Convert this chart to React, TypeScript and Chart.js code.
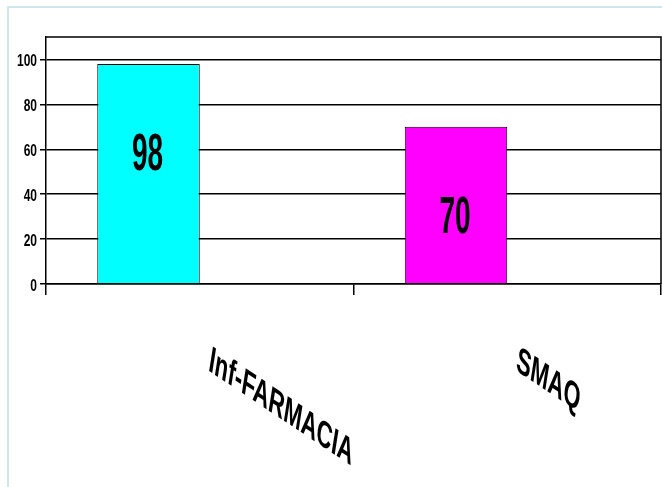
import React, { useEffect, useRef } from "react";
import { Chart, registerables } from "chart.js";

Chart.register(...registerables);

const categories = ["Inf-FARMACIA", "SMAQ"];
const seriesValues = [98, 70];
const emptySeries: (number | null)[] = [null, null];
const barColors = ["#00FFFF", "#FF00FF"];
const yTickValues = [0, 20, 40, 60, 80, 100];
const yMin = 0;
const yMax = 110;

const W = 662;
const H = 487;

const framePlugin = {
  id: "frame",
  beforeDatasetsDraw(chart: any) {
    const { ctx, chartArea } = chart;
    ctx.save();
    ctx.strokeStyle = "#000";
    ctx.lineWidth = 1.5;
    ctx.beginPath();
    ctx.moveTo(chartArea.left, chartArea.top);
    ctx.lineTo(chartArea.right, chartArea.top);
    ctx.lineTo(chartArea.right, chartArea.bottom);
    ctx.stroke();
    ctx.restore();
  },
};

const yLabelPlugin = {
  id: "yLabels",
  afterDraw(chart: any) {
    const { ctx } = chart;
    const ys = chart.scales.y;
    ctx.save();
    ctx.fillStyle = "#000";
    ctx.font = 'bold 16px "Liberation Sans", Arial, sans-serif';
    ctx.textAlign = "right";
    ctx.textBaseline = "alphabetic";
    ys.ticks.forEach((t: any) => {
      const y = ys.getPixelForValue(t.value);
      ctx.save();
      ctx.translate(ys.right - 9, y + 1 + 5.7);
      ctx.scale(0.75, 1);
      ctx.fillText(String(t.value), 0, 0);
      ctx.restore();
    });
    ctx.restore();
  },
};

const valueLabelPlugin = {
  id: "valueLabels",
  afterDatasetsDraw(chart: any) {
    const { ctx } = chart;
    const meta = chart.getDatasetMeta(0);
    ctx.save();
    ctx.fillStyle = "#000";
    ctx.font = 'bold 51px "Liberation Sans", Arial, sans-serif';
    ctx.textAlign = "center";
    ctx.textBaseline = "alphabetic";
    meta.data.forEach((el: any, i: number) => {
      const v = seriesValues[i];
      if (v == null) return;
      ctx.save();
      ctx.translate(el.x - 1, el.y + 88 + 18);
      ctx.scale(0.55, 1);
      ctx.fillText(String(v), 0, 0);
      ctx.restore();
    });
    ctx.restore();
  },
};

const xLabelPlugin = {
  id: "xLabels",
  afterDraw(chart: any) {
    const { ctx } = chart;
    const xs = chart.scales.x;
    ctx.save();
    ctx.fillStyle = "#000";
    ctx.font = 'bold 35px "Liberation Sans", Arial, sans-serif';
    ctx.textAlign = "left";
    ctx.textBaseline = "alphabetic";
    categories.forEach((label, i) => {
      const cx = xs.getPixelForValue(i);
      ctx.save();
      ctx.translate(cx + 8, 370);
      ctx.transform(0.6, 0.4, -0.16, 1.02, 0, 0);
      ctx.fillText(label, 0, 0);
      ctx.restore();
    });
    ctx.restore();
  },
};

export default function App() {
  const ref = useRef<HTMLCanvasElement | null>(null);

  useEffect(() => {
    if (!ref.current) return;
    const chart = new Chart(ref.current, {
      type: "bar",
      data: {
        labels: categories,
        datasets: [
          {
            label: "Serie 1",
            data: seriesValues,
            backgroundColor: barColors,
            borderColor: "#000",
            borderWidth: 1,
            barPercentage: 1,
            categoryPercentage: 2 / 3,
          },
          {
            label: "Serie 2",
            data: emptySeries,
            backgroundColor: "#999",
            borderColor: "#000",
            borderWidth: 1,
            barPercentage: 1,
            categoryPercentage: 2 / 3,
          },
        ],
      },
      options: {
        responsive: false,
        animation: false,
        devicePixelRatio: 1,
        layout: { padding: { top: 37, right: 1, left: 0, bottom: 0 } },
        plugins: {
          legend: { display: false },
          tooltip: { enabled: false },
          title: { display: false },
        },
        scales: {
          x: {
            type: "category",
            offset: true,
            grid: {
              display: true,
              offset: true,
              drawOnChartArea: false,
              drawTicks: true,
              tickLength: 11,
              color: "#000",
              lineWidth: 1.5,
            },
            border: { display: true, color: "#000", width: 1.5 },
            ticks: { display: false },
            afterFit: (s: any) => {
              s.height = 203;
            },
          },
          y: {
            min: yMin,
            max: yMax,
            grid: {
              color: "#000",
              lineWidth: 1.5,
              drawTicks: true,
              tickLength: 6,
            },
            border: { display: true, color: "#000", width: 1.5 },
            ticks: { display: false, stepSize: 20 },
            afterBuildTicks: (s: any) => {
              s.ticks = yTickValues.map((v) => ({ value: v }));
            },
            afterFit: (s: any) => {
              s.width = 46;
            },
          },
        },
      } as any,
      plugins: [framePlugin, valueLabelPlugin, yLabelPlugin, xLabelPlugin],
    });
    return () => chart.destroy();
  }, []);

  return (
    <div
      style={{
        position: "fixed",
        left: 0,
        top: 0,
        width: W,
        height: H,
        background: "#fff",
        overflow: "hidden",
      }}
    >
      <div
        style={{
          position: "absolute",
          left: 7,
          top: 6,
          width: W - 7,
          height: 2,
          background: "#cfe7ec",
        }}
      />
      <div
        style={{
          position: "absolute",
          left: 7,
          top: 6,
          width: 2,
          height: H - 6,
          background: "#cfe7ec",
        }}
      />
      <canvas
        ref={ref}
        width={W}
        height={H}
        style={{ position: "absolute", left: 0, top: 0, width: W, height: H }}
      />
    </div>
  );
}
